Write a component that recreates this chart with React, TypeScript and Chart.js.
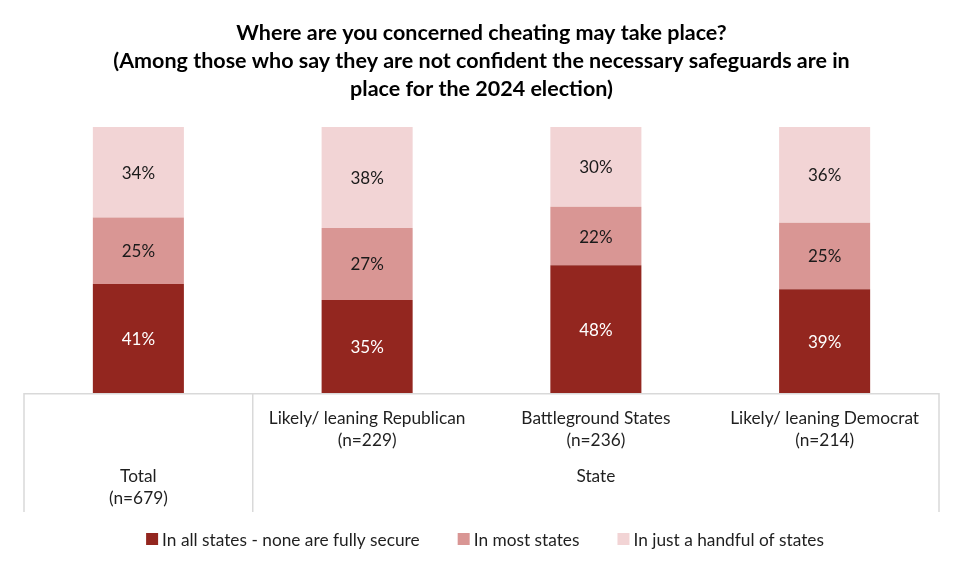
import React, { useEffect, useRef } from "react";
import { Chart, registerables } from "chart.js";
Chart.register(...registerables);

const FONT = "Lato";

const titleLines = [
  "Where are you concerned cheating may take place?",
  "(Among those who say they are not confident the necessary safeguards are in",
  "place for the 2024 election)",
];
const categories = ["Total", "Likely/ leaning Republican", "Battleground States", "Likely/ leaning Democrat"];
const innerLabels: string[][] = [
  [],
  ["Likely/ leaning Republican", "(n=229)"],
  ["Battleground States", "(n=236)"],
  ["Likely/ leaning Democrat", "(n=214)"],
];
const outerGroups = [
  { lines: ["Total", "(n=679)"], from: 0, to: 0 },
  { lines: ["State"], from: 1, to: 3 },
];
const seriesLabels = ["In all states - none are fully secure", "In most states", "In just a handful of states"];
const allStates = [41, 35, 48, 39];
const mostStates = [25, 27, 22, 25];
const handfulStates = [34, 38, 30, 36];
const seriesColors = ["#93261F", "#D99694", "#F2D4D5"];
const labelColors = ["#FFFFFF", "#1a1a1a", "#1a1a1a"];

const tablePlugin = {
  id: "tablePlugin",
  afterDraw(chart: any) {
    const ctx = chart.ctx as CanvasRenderingContext2D;
    const area = chart.chartArea;
    const xs = chart.scales.x;
    const n = categories.length;
    const cw = (area.right - area.left) / n;
    const bottom = area.bottom;
    ctx.save();

    // data labels
    ctx.font = `17px ${FONT}`;
    ctx.textAlign = "center";
    ctx.textBaseline = "middle";
    chart.data.datasets.forEach((ds: any, d: number) => {
      const meta = chart.getDatasetMeta(d);
      meta.data.forEach((bar: any, i: number) => {
        const v = ds.data[i];
        ctx.fillStyle = labelColors[d];
        ctx.fillText(`${v}%`, bar.x, (bar.y + bar.base) / 2 + 1);
      });
    });

    // table lines
    ctx.strokeStyle = "#D9D9D9";
    ctx.lineWidth = 1.5;
    ctx.beginPath();
    ctx.moveTo(area.left, bottom + 0.75);
    ctx.lineTo(area.right, bottom + 0.75);
    const edges: number[] = [];
    outerGroups.forEach((g, gi) => {
      const l = xs.getPixelForValue(g.from) - cw / 2;
      const r = xs.getPixelForValue(g.to) + cw / 2;
      if (gi === 0) edges.push(l);
      edges.push(r);
    });
    edges.forEach((x) => {
      ctx.moveTo(x, bottom);
      ctx.lineTo(x, bottom + 119);
    });
    ctx.stroke();

    // inner labels
    ctx.fillStyle = "#1f1f1f";
    ctx.font = `17.3px ${FONT}`;
    innerLabels.forEach((lines, i) => {
      const cx = xs.getPixelForValue(i);
      lines.forEach((t, k) => ctx.fillText(t, cx, bottom + 25 + k * 22));
    });
    // outer labels
    outerGroups.forEach((g) => {
      const cx = (xs.getPixelForValue(g.from) + xs.getPixelForValue(g.to)) / 2;
      g.lines.forEach((t, k) => ctx.fillText(t, cx, bottom + 83 + k * 22));
    });

    // legend
    const legY = 539;
    const box = 12;
    const gapBoxText = 4;
    const gapItems = 38;
    const widths = chart.data.datasets.map((ds: any) => ctx.measureText(ds.label).width);
    const total = widths.reduce((a: number, w: number) => a + box + gapBoxText + w, 0) + gapItems * (widths.length - 1);
    let x = 485 - total / 2;
    ctx.textAlign = "left";
    chart.data.datasets.forEach((ds: any, d: number) => {
      ctx.fillStyle = seriesColors[d];
      ctx.fillRect(x, legY - box / 2, box, box);
      ctx.fillStyle = "#1f1f1f";
      ctx.fillText(ds.label, x + box + gapBoxText, legY + 1);
      x += box + gapBoxText + widths[d] + gapItems;
    });
    ctx.restore();
  },
};

export default function App() {
  const ref = useRef<HTMLCanvasElement | null>(null);
  useEffect(() => {
    if (!ref.current) return;
    const seriesValues = [allStates, mostStates, handfulStates];
    const chart = new Chart(ref.current, {
      type: "bar",
      data: {
        labels: categories,
        datasets: seriesValues.map((vals, i) => ({
          label: seriesLabels[i],
          data: vals,
          backgroundColor: seriesColors[i],
          borderWidth: 0,
          barPercentage: 0.398,
          categoryPercentage: 1,
        })),
      },
      options: {
        responsive: false,
        animation: false,
        layout: { padding: { left: 24, right: 24, top: 0, bottom: 178 } },
        scales: {
          x: { stacked: true, display: false },
          y: { stacked: true, display: false, min: 0, max: 100 },
        },
        plugins: {
          legend: { display: false },
          tooltip: { enabled: true },
          title: {
            display: true,
            text: titleLines,
            color: "#000000",
            font: { family: FONT, size: 21.5, weight: "bold", lineHeight: 28 / 21.5 },
            padding: { top: 19, bottom: 24 },
          },
        },
      },
      plugins: [tablePlugin],
    });
    return () => chart.destroy();
  }, []);
  return (
    <div style={{ position: "fixed", left: 0, top: 0, width: 963, height: 571, background: "#fff" }}>
      <canvas ref={ref} width={963} height={571} />
    </div>
  );
}
